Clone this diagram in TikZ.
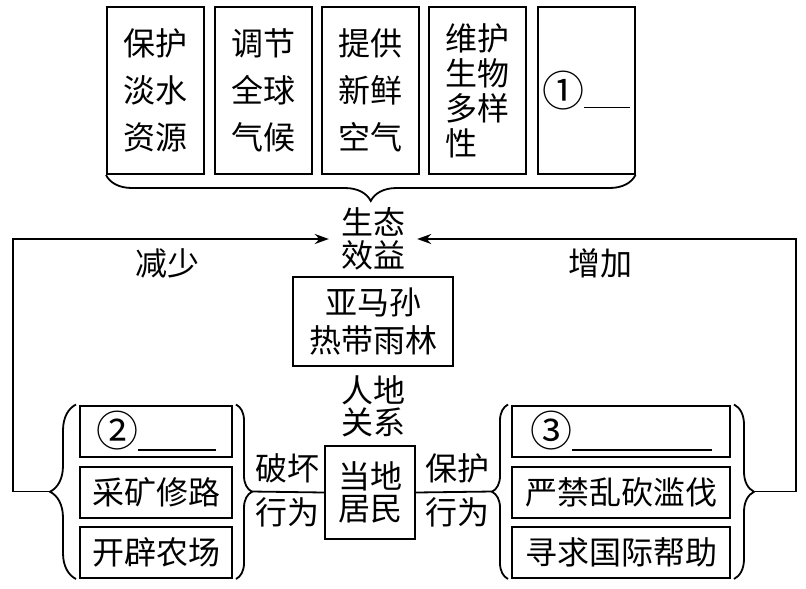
\documentclass[tikz,border=0pt]{standalone}
\usepackage{fontspec}
\newfontfamily\cjk{Noto Sans CJK SC}
\newcommand{\circno}[1]{{\fontsize{42}{42}\selectfont\raisebox{-2pt}{#1}}}
\usetikzlibrary{arrows.meta,decorations.pathreplacing}

\tikzset{
	every node/.style={font=\cjk\fontsize{32}{36}\selectfont, inner sep=0pt},
	topbox/.style={draw, line width=2pt, minimum width=97pt, minimum height=167pt, align=center},
	rowbox/.style={draw, line width=2pt, minimum height=51pt},
	lbl/.style={align=center},
	link/.style={line width=1.8pt},
	arr/.style={link, -{Stealth[length=14pt,width=10pt]}},
	brc/.style={line width=1.8pt, decorate, decoration={brace, amplitude=#1}},
	brc/.default=26pt
}

\begin{document}
\begin{tikzpicture}[x=1pt,y=-1pt]
	\useasboundingbox (0,0) rectangle (806,589);

	% ecological benefits
	\node[topbox, font=\cjk\fontsize{32}{47}\selectfont] (b1) at (155.5,90.5) {保护\\淡水\\资源};
	\node[topbox, font=\cjk\fontsize{32}{47}\selectfont] (b2) at (263,90.5) {调节\\全球\\气候};
	\node[topbox, font=\cjk\fontsize{32}{47}\selectfont] (b3) at (370.5,90.5) {提供\\新鲜\\空气};
	\node[topbox, align=left, font=\cjk\fontsize{32}{35}\selectfont] (b4) at (477.5,90.5) {维护\\生物\\多样\\性};
	\node[topbox] (b5) at (586,90.5) {\circno{①}\rule[-4pt]{46pt}{1.5pt}};
	\draw[brc] (b5.south east) -- (b1.south west);

	\node[lbl, inner xsep=12pt, font=\cjk\fontsize{32}{33}\selectfont] (eco) at (373,239) {生态\\效益};
	\node (less) at (167,263) {减少};
	\node (more) at (600,263) {增加};

	\node[draw, line width=2pt, minimum width=160pt, minimum height=89pt, align=center,
		font=\cjk\fontsize{32}{38}\selectfont] (rf) at (373,321.5) {亚马孙\\热带雨林};
	\node[lbl, font=\cjk\fontsize{32}{32}\selectfont] (rel) at (373,406) {人地\\关系};

	% local residents
	\node[draw, line width=2pt, minimum width=90pt, minimum height=93pt, align=center,
		font=\cjk\fontsize{32}{32}\selectfont] (home) at (370,492.5) {当地\\居民};
	\node (bad1) at (287,468) {破坏};
	\node (bad2) at (287,512) {行为};
	\node (good1) at (457,468) {保护};
	\node (good2) at (457,512) {行为};

	% destroying
	\node[rowbox, minimum width=152pt] (l1) at (156,431) {\circno{②}\rule[-6pt]{78pt}{1.5pt}};
	\node[rowbox, minimum width=152pt] (l2) at (156,492.5) {采矿修路};
	\node[rowbox, minimum width=152pt] (l3) at (156,552.5) {开辟农场};

	% protecting
	\node[rowbox, minimum width=218pt] (r1) at (621,431) {\circno{③}\rule[-6pt]{140pt}{1.5pt}};
	\node[rowbox, minimum width=218pt] (r2) at (621,492.5) {严禁乱砍滥伐};
	\node[rowbox, minimum width=218pt] (r3) at (621,552.5) {寻求国际帮助};

	\draw[brc=26pt] ([xshift=-3pt]l3.south west) -- ([xshift=-3pt]l1.north west);
	\draw[brc=16pt] ([xshift=3pt]l1.north east) -- ([xshift=3pt]l3.south east);
	\draw[brc=16pt] ([xshift=-3pt]r3.south west) -- ([xshift=-3pt]r1.north west);
	\draw[brc=20pt] ([xshift=3pt]r1.north east) -- ([xshift=3pt]r3.south east);

	\coordinate (ltip) at (51,491.5);
	\coordinate (lc) at (13,491.5);
	\coordinate (lmid) at (251,491.5);
	\coordinate (rmid) at (493,491.5);
	\coordinate (rtip) at (753,491.5);
	\coordinate (rc) at (796,491.5);

	\draw[arr] (ltip) -- (lc) |- (eco.west);
	\draw[arr] (rtip) -- (rc) |- (eco.east);
	\path[link]
	(lmid) edge (home.west)
	(home.east) edge (rmid);
\end{tikzpicture}
\end{document}
